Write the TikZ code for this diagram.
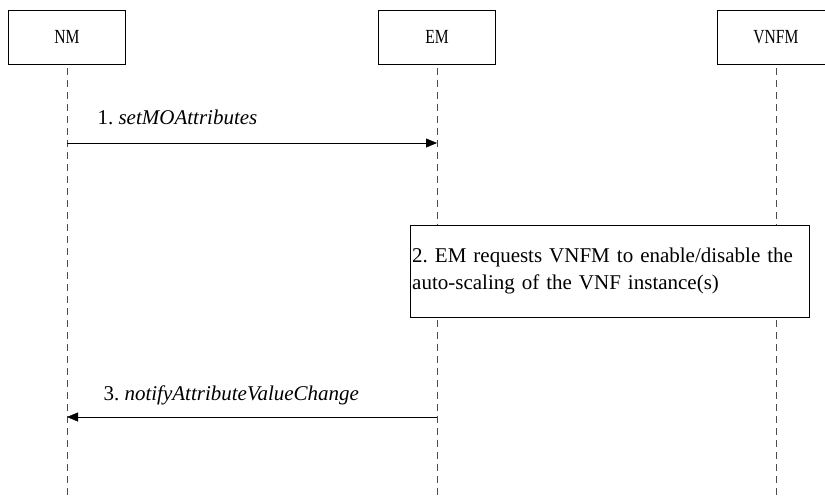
\documentclass[tikz,border=0pt]{standalone}
\usepackage{fontspec}
\setmainfont{Liberation Serif}
\usetikzlibrary{arrows.meta,positioning}
\newcommand{\narrowtext}[1]{\scalebox{0.78}[1]{#1}}

\begin{document}
\frenchspacing
\begin{tikzpicture}[x=1pt, y=-1pt,
    entity/.style={draw, thin, minimum width=117pt, minimum height=54pt,
      font=\fontsize{20}{22}\selectfont},
    lifeline/.style={thin, gray!60!black, dash pattern=on 7pt off 5pt},
    msg/.style={thin, -{Triangle[length=11pt,width=9pt]}},
    msglabel/.style={font=\fontsize{21}{24}\selectfont, anchor=base west}]
      \clip (0,0) rectangle (825,499);
      \node[entity] (nm) at (67,37) {\narrowtext{NM}};
      \node[entity] (em) at (437,37) {\narrowtext{EM}};
      \node[entity] (vnfm) at (776,37) {\narrowtext{VNFM}};
      % lifelines
      \coordinate (nm-end) at (67,499);
      \coordinate (em-end) at (437,499);
      \coordinate (vnfm-end) at (776,499);
      \draw[lifeline] ([yshift=-4pt]nm.south) -- (nm-end);
      \draw[lifeline] ([yshift=-4pt]em.south) -- (em-end);
      \draw[lifeline] ([yshift=-4pt]vnfm.south) -- (vnfm-end);
      % messages
      \coordinate (m1-from) at (67,143);
      \coordinate (m1-to) at (437,143);
      \draw[msg] (m1-from) -- (m1-to);
      \node[msglabel] (m1) at (94,124) {1. \textit{setMOAttributes}};
      \node[draw, thin, fill=white, anchor=north west, minimum width=399pt,
        minimum height=92pt, text width=395pt, align=left, inner sep=2pt,
        font=\fontsize{21}{27}\selectfont] (req) at (410,225)
        {2. EM requests VNFM to enable/disable the\\auto-scaling of the VNF instance(s)};
      \coordinate (m3-from) at (437,417);
      \coordinate (m3-to) at (67,417);
      \draw[msg] (m3-from) -- (m3-to);
      \node[msglabel] (m3) at (100,400) {3. \textit{notifyAttributeValueChange}};
    \end{tikzpicture}
\end{document}
